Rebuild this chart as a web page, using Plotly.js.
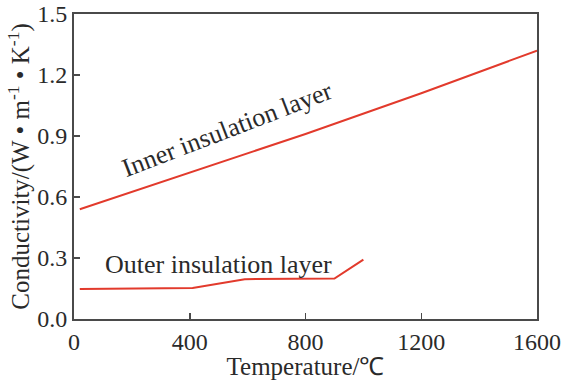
<!DOCTYPE html>
<html>
<head>
<meta charset="utf-8">
<script src="https://cdn.plot.ly/plotly-3.0.1.min.js"></script>
<style>html,body{margin:0;padding:0;background:#fff;}#chart{width:563px;height:380px;}</style>
</head>
<body>
<div id="chart"></div>
<script>
const innerTemp = [20, 400, 800, 1200, 1600];
const innerCond = [0.54, 0.72, 0.91, 1.11, 1.32];
const outerTemp = [20, 410, 590, 900, 1000];
const outerCond = [0.148, 0.152, 0.196, 0.199, 0.292];
const xTicks = [0, 400, 800, 1200, 1600];
const yTicks = [0.0, 0.3, 0.6, 0.9, 1.2, 1.5];
const yTickText = ['0.0', '0.3', '0.6', '0.9', '1.2', '1.5'];
const innerLabel = 'Inner insulation layer';
const outerLabel = 'Outer insulation layer';

const red = '#e23a2c';
const font = 'Liberation Serif, Times New Roman, serif';
const textColor = '#2a2a2a';
const traces = [
  {x: innerTemp, y: innerCond, mode: 'lines', line: {color: red, width: 2}, name: innerLabel},
  {x: outerTemp, y: outerCond, mode: 'lines', line: {color: red, width: 2}, name: outerLabel}
];
const axisCommon = {
  showgrid: false, zeroline: false, showline: true, mirror: true,
  linecolor: '#4a4a4a', linewidth: 2, ticks: 'inside', ticklen: 6,
  tickwidth: 1.5, tickcolor: '#4a4a4a', automargin: false,
  ticklabeloverflow: 'allow',
  tickfont: {family: font, size: 24, color: textColor}
};
const layout = {
  width: 563, height: 380,
  margin: {l: 74, r: 26, t: 14, b: 61},
  paper_bgcolor: '#fff', plot_bgcolor: '#fff',
  showlegend: false,
  xaxis: Object.assign({}, axisCommon, {
    range: [0, 1600], tickvals: xTicks,
    title: {text: 'Temperature/℃', font: {family: font, size: 25, color: textColor}, standoff: 0}
  }),
  yaxis: Object.assign({}, axisCommon, {
    range: [0, 1.5], tickvals: yTicks, ticktext: yTickText,
    title: {text: 'Conductivity/(W • m<sup>-1</sup> • K<sup>-1</sup>)', font: {family: font, size: 25, color: textColor}, standoff: 0}
  }),
  annotations: [
    {x: 529, y: 0.93, xref: 'x', yref: 'y', text: innerLabel, showarrow: false, textangle: -21,
     font: {family: font, size: 26, color: textColor}},
    {x: 498, y: 0.27, xref: 'x', yref: 'y', text: outerLabel, showarrow: false,
     font: {family: font, size: 26, color: textColor}}
  ]
};
Plotly.newPlot('chart', traces, layout, {displayModeBar: false, staticPlot: true});
</script>
</body>
</html>
